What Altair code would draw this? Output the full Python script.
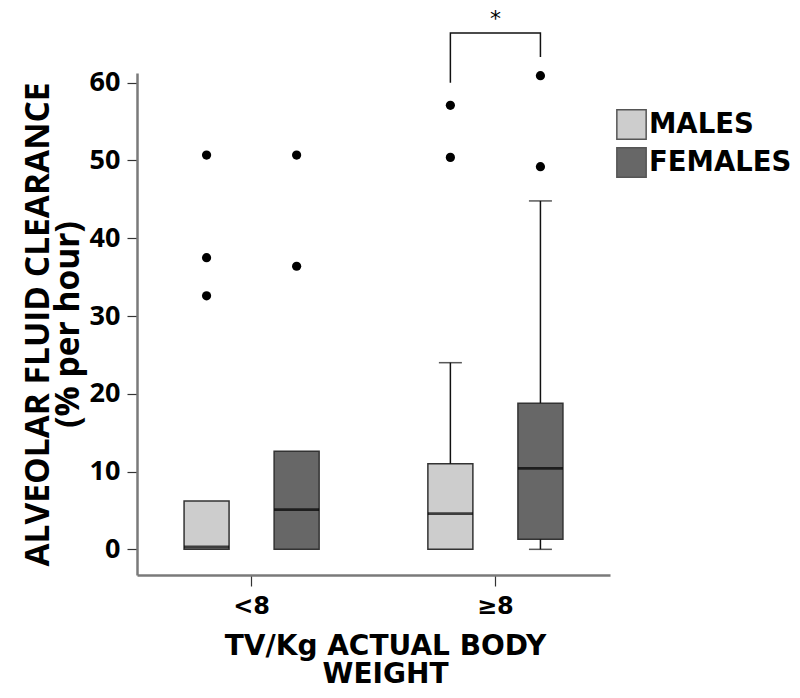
import altair as alt
import pandas as pd

# ---- data ----
groups = ["<8", "<8", "≥8", "≥8"]
sexes = ["MALES", "FEMALES", "MALES", "FEMALES"]
q1 = [0.0, 0.0, 0.0, 1.3]
median = [0.3, 5.1, 4.6, 10.4]
q3 = [6.2, 12.6, 11.0, 18.8]
whisker_low = [0.0, 0.0, 0.0, 0.0]
whisker_high = [6.2, 12.6, 24.0, 44.8]

out_groups = ["<8", "<8", "<8", "<8", "<8", "≥8", "≥8", "≥8", "≥8"]
out_sexes = ["MALES", "MALES", "MALES", "FEMALES", "FEMALES", "MALES", "MALES", "FEMALES", "FEMALES"]
out_values = [50.7, 37.5, 32.6, 50.7, 36.4, 57.1, 50.4, 60.9, 49.2]

# significance bracket between MALES and FEMALES in the >=8 group
br_groups = ["≥8", "≥8", "≥8", "≥8"]
br_sexes = ["MALES", "MALES", "FEMALES", "FEMALES"]
br_values = [60.0, 66.4, 66.4, 63.3]
br_order = [0, 1, 2, 3]
star_group = ["≥8"]
star_value = [67.25]
star_text = ["*"]

cats = ["<8", "≥8"]
sex_order = ["MALES", "FEMALES"]
colors = ["#cdcdcd", "#676767"]

box = pd.DataFrame({"group": groups, "sex": sexes, "q1": q1, "median": median,
                    "q3": q3, "wlo": whisker_low, "whi": whisker_high})
outl = pd.DataFrame({"group": out_groups, "sex": out_sexes, "value": out_values})
br = pd.DataFrame({"group": br_groups, "sex": br_sexes, "value": br_values, "o": br_order})
star = pd.DataFrame({"group": star_group, "value": star_value, "t": star_text})

yscale = alt.Scale(domain=[-3.3, 61.25], nice=False, zero=False)
xscale = alt.Scale(domain=cats, paddingInner=0.2, paddingOuter=0.07)
xoff_scale = alt.Scale(domain=sex_order, paddingInner=0.5, paddingOuter=0.333)

X = alt.X("group:N", scale=xscale, sort=cats,
          axis=alt.Axis(title=["TV/Kg ACTUAL BODY", "WEIGHT"], labelAngle=0,
                        labelFont="DejaVu Sans", labelFontSize=24, labelFontWeight="bold",
                        labelColor="#000", labelPadding=8, tickSize=11, tickColor="#333",
                        tickWidth=1.2, domainColor="#7a7a7a", domainWidth=2.5,
                        titleFont="DejaVu Sans", titleFontSize=28, titleFontWeight="bold",
                        titleColor="#000", titleLineHeight=28, titlePadding=14, titleX=248))
XO = alt.XOffset("sex:N", scale=xoff_scale, sort=sex_order)
Y = alt.Y("q1:Q", scale=yscale,
          axis=alt.Axis(title=["ALVEOLAR FLUID CLEARANCE", "(% per hour)"],
                        values=[0, 10, 20, 30, 40, 50, 60], grid=False,
                        labelFont="Open Sans", labelFontSize=27, labelFontWeight="bold",
                        labelColor="#000", labelPadding=7, tickSize=10, tickColor="#333",
                        tickWidth=1.2, domainColor="#7a7a7a", domainWidth=2.5,
                        titleFont="Open Sans", titleFontSize=33.5, titleFontWeight="bold",
                        titleColor="#000", titleLineHeight=30, titlePadding=4))

boxes = alt.Chart(box).mark_bar(size=45, stroke="#333333", strokeWidth=1.5).encode(
    x=X, xOffset=XO, y=Y, y2="q3:Q",
    color=alt.Color("sex:N", scale=alt.Scale(domain=sex_order, range=colors),
                    legend=alt.Legend(title=None, orient="none", legendX=479, legendY=36,
                                      symbolType="square", symbolSize=860,
                                      symbolStrokeColor="#555555", symbolStrokeWidth=1.5,
                                      symbolOpacity=1,
                                      labelFont="DejaVu Sans", labelFontSize=27.5,
                                      labelFontWeight="bold", labelColor="#000",
                                      labelOffset=2, rowPadding=1, padding=0)),
)

upper_wh = alt.Chart(box).transform_filter("datum.whi > datum.q3").mark_rule(
    color="#111", strokeWidth=1.5).encode(x=X, xOffset=XO, y="q3:Q", y2="whi:Q")
upper_cap = alt.Chart(box).transform_filter("datum.whi > datum.q3").mark_tick(
    color="#111", size=23, thickness=1.5).encode(x=X, xOffset=XO, y="whi:Q")
lower_wh = alt.Chart(box).transform_filter("datum.wlo < datum.q1").mark_rule(
    color="#111", strokeWidth=1.5).encode(x=X, xOffset=XO, y="wlo:Q", y2="q1:Q")
lower_cap = alt.Chart(box).transform_filter("datum.wlo < datum.q1").mark_tick(
    color="#111", size=23, thickness=1.5).encode(x=X, xOffset=XO, y="wlo:Q")
medians = alt.Chart(box).mark_tick(color="#000", size=45, thickness=2.8).encode(
    x=X, xOffset=XO, y="median:Q")
points = alt.Chart(outl).mark_circle(color="#000", size=85, opacity=1).encode(
    x=X, xOffset=XO, y="value:Q")
bracket = alt.Chart(br).mark_line(color="#111", strokeWidth=1.5).encode(
    x=X, xOffset=XO, y="value:Q", order="o:Q")
stars = alt.Chart(star).mark_text(font="DejaVu Sans", fontSize=22, color="#000",
                                  baseline="alphabetic").encode(x=X, y="value:Q", text="t:N")

chart = alt.layer(boxes, upper_wh, upper_cap, lower_wh, lower_cap, medians, points,
                  bracket, stars).properties(
    width=473, height=502,
    autosize=alt.AutoSizeParams(type="none"),
    padding={"left": 129, "top": 65, "right": 182, "bottom": 115},
).configure_view(stroke=None).configure_axis(grid=False)

chart.save("out.html", embed_options={"renderer": "svg", "actions": False})
